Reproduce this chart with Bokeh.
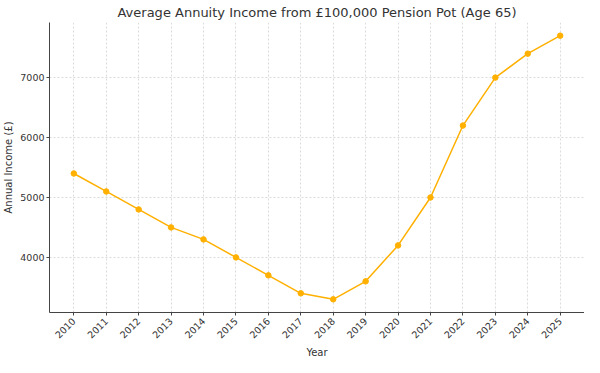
import numpy as np
from bokeh.plotting import figure
from bokeh.models import FixedTicker, Range1d, Title
from bokeh.embed import file_html
from bokeh.resources import INLINE
from math import pi

years = [2010, 2011, 2012, 2013, 2014, 2015, 2016, 2017, 2018, 2019, 2020, 2021, 2022, 2023, 2024, 2025]
income = [5400, 5100, 4800, 4500, 4300, 4000, 3700, 3400, 3300, 3600, 4200, 5000, 6200, 7000, 7400, 7700]
y_ticks = [4000, 5000, 6000, 7000]

FONT = "DejaVu Sans"
TXT = "#333333"
LINE = "#FFB000"

x0, x1 = 2009.25, 2025.75
p = figure(width=584, height=357, output_backend="svg", toolbar_location=None,
           x_range=Range1d(x0, x1), y_range=Range1d(3080, 7920),
           min_border_left=0, min_border_right=0, min_border_top=0, min_border_bottom=0)

p.title.text = "Average Annuity Income from £100,000 Pension Pot (Age 65)"
p.title.align = "center"
p.title.text_font = FONT
p.title.text_font_size = "13px"
p.title.text_font_style = "normal"
p.title.text_color = TXT
p.title.standoff = 5
p.title.offset = 0

p.line(years, income, line_color=LINE, line_width=1.5)
p.scatter(years, income, size=5.5, fill_color=LINE, line_color=LINE)

p.xaxis.ticker = FixedTicker(ticks=years)
p.yaxis.ticker = FixedTicker(ticks=y_ticks)
p.xaxis.major_label_orientation = pi / 4
p.yaxis.axis_label = "Annual Income (£)"

for ax in (p.xaxis, p.yaxis):
    ax.axis_label_text_font = FONT
    ax.axis_label_text_font_size = "10px"
    ax.axis_label_text_font_style = "normal"
    ax.axis_label_text_color = TXT
    ax.major_label_text_font = FONT
    ax.major_label_text_font_size = "9.5px"
    ax.major_label_text_color = TXT
    ax.axis_line_color = "#444444"
    ax.major_tick_line_color = "#444444"
    ax.minor_tick_line_color = None
    ax.major_tick_out = 3
    ax.major_tick_in = 0

p.xaxis.major_label_standoff = 4
p.yaxis.axis_label_standoff = 3
p.yaxis.major_label_standoff = 2

xtitle = Title(text="Year", align="center", text_font=FONT, text_font_size="10px",
               text_font_style="normal", text_color=TXT, standoff=0, offset=0)
p.add_layout(xtitle, "below")

p.grid.grid_line_color = "#cccccc"
p.grid.grid_line_dash = "2 2"
p.grid.grid_line_alpha = 0.7
p.outline_line_color = None

open("out.html", "w").write(file_html(p, INLINE))
